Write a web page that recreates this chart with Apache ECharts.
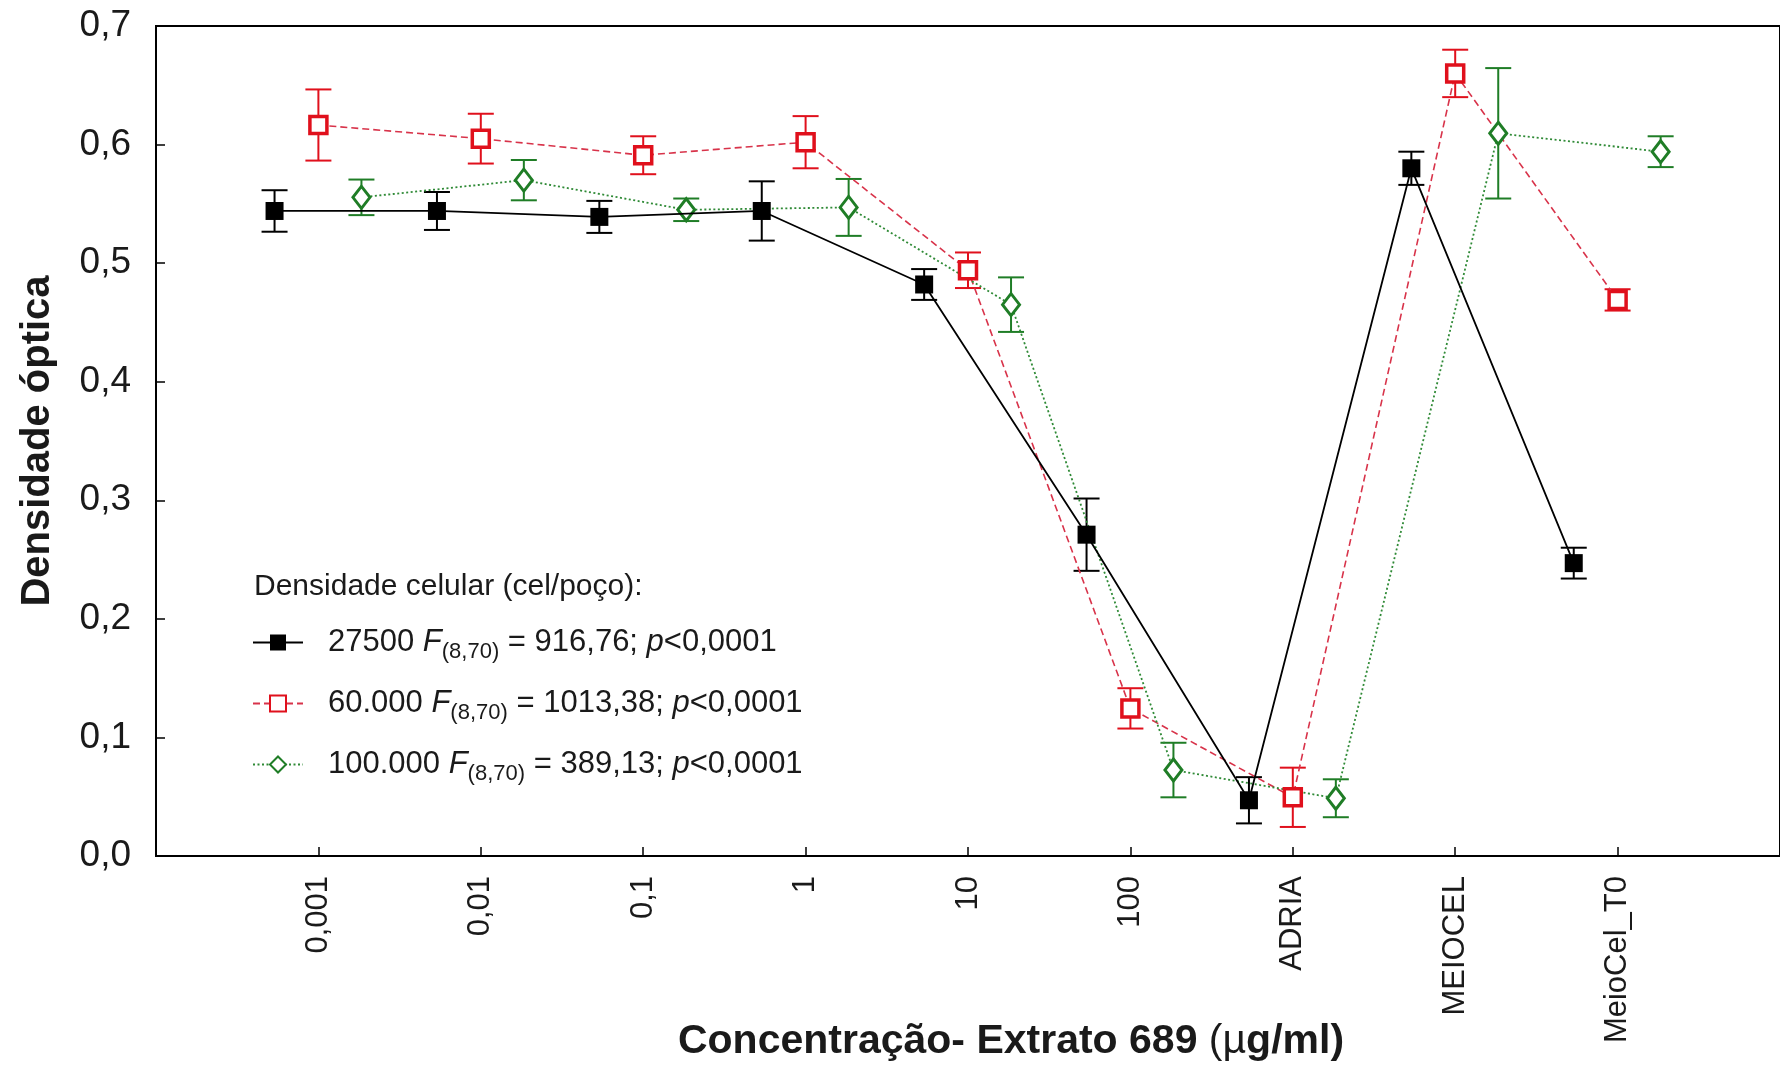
<!DOCTYPE html>
<html>
<head>
<meta charset="utf-8">
<script src="https://cdn.jsdelivr.net/npm/echarts@6/dist/echarts.min.js"></script>
<style>
  html, body { margin: 0; padding: 0; background: #fff; }
  #chart { width: 1780px; height: 1068px; }
</style>
</head>
<body>
<div id="chart"></div>
<script>
// Categories on the x axis (extract concentration in µg/ml and controls)
const categories = ['0,001', '0,01', '0,1', '1', '10', '100', 'ADRIA', 'MEIOCEL', 'MeioCel_T0'];
const yTickLabels = ['0,0', '0,1', '0,2', '0,3', '0,4', '0,5', '0,6', '0,7'];

// Cell density groups (cells per well) and their ANOVA results
const seriesNames = ['27500', '60.000', '100.000'];
const fStats = ['916,76', '1013,38', '389,13'];

// Mean optical density and error half-widths per group
const mean27500  = [0.544, 0.544, 0.539, 0.544, 0.482, 0.271, 0.047, 0.580, 0.247];
const err27500   = [0.0175, 0.016, 0.0135, 0.025, 0.013, 0.0305, 0.0195, 0.014, 0.013];
const mean60000  = [0.6165, 0.605, 0.591, 0.602, 0.494, 0.1245, 0.0495, 0.660, 0.469];
const err60000   = [0.030, 0.021, 0.016, 0.022, 0.015, 0.017, 0.025, 0.020, 0.009];
const mean100000 = [0.5555, 0.570, 0.545, 0.547, 0.465, 0.0725, 0.0487, 0.6095, 0.594];
const err100000  = [0.015, 0.017, 0.0095, 0.024, 0.023, 0.023, 0.016, 0.055, 0.013];

const FONT = '"Liberation Sans", Arial, sans-serif';
const TEXT = '#1a1a1a';
// horizontal dodge of each group around its category slot
const dodge = [-0.27, 0, 0.265];
const lineColors = ['#000000', '#d8334a', '#2f8a36'];
const markColors = ['#000000', '#e0101c', '#1f7d26'];
const slots = categories.map((_, i) => i + 1);

function points(means, off) {
  return means.map((v, i) => [i + 1 + off, v]);
}
function errorRanges(means, errs, off) {
  return means.map((v, i) => [i + 1 + off, v - errs[i], v + errs[i]]);
}

function errorBarSeries(name, data, color) {
  return {
    type: 'custom',
    name: name,
    data: data,
    encode: { x: 0, y: [1, 2] },
    z: 2,
    silent: true,
    clip: false,
    renderItem: function (params, api) {
      const x = api.value(0);
      const lo = api.coord([x, api.value(1)]);
      const hi = api.coord([x, api.value(2)]);
      const w = 13;
      const style = { stroke: color, lineWidth: 2, fill: null };
      return {
        type: 'group',
        children: [
          { type: 'line', shape: { x1: lo[0], y1: lo[1], x2: hi[0], y2: hi[1] }, style: style },
          { type: 'line', shape: { x1: lo[0] - w, y1: lo[1], x2: lo[0] + w, y2: lo[1] }, style: style },
          { type: 'line', shape: { x1: hi[0] - w, y1: hi[1], x2: hi[0] + w, y2: hi[1] }, style: style }
        ]
      };
    }
  };
}

const means = [mean27500, mean60000, mean100000];
const errs = [err27500, err60000, err100000];

const lineSeries = [
  {
    type: 'line', name: seriesNames[0], data: points(means[0], dodge[0]),
    symbol: 'rect', symbolSize: 18, z: 6,
    itemStyle: { color: markColors[0] },
    lineStyle: { color: lineColors[0], width: 1.8 }
  },
  {
    type: 'line', name: seriesNames[1], data: points(means[1], dodge[1]),
    symbol: 'rect', symbolSize: 17, z: 5,
    itemStyle: { color: '#ffffff', borderColor: markColors[1], borderWidth: 3.5 },
    lineStyle: { color: lineColors[1], width: 1.6, type: [7, 4] }
  },
  {
    type: 'line', name: seriesNames[2], data: points(means[2], dodge[2]),
    symbol: 'diamond', symbolSize: [17, 22], z: 5,
    itemStyle: { color: '#ffffff', borderColor: markColors[2], borderWidth: 3 },
    lineStyle: { color: lineColors[2], width: 1.8, type: [2, 2.5] }
  }
].map(s => Object.assign(s, { emphasis: { disabled: true }, showAllSymbol: true }));

const barSeries = means.map((m, k) =>
  errorBarSeries('err-' + seriesNames[k], errorRanges(m, errs[k], dodge[k]), markColors[k]));

const legendTops = [627, 688, 749];
const legends = seriesNames.map((n, i) => ({
  data: [n],
  left: 252,
  top: legendTops[i],
  padding: 0,
  itemWidth: 50,
  itemHeight: 20,
  selectedMode: false,
  formatter: name => name + ' {f|F}{s|(8,70)} = ' + fStats[i] + '; {f|p}<0,0001',
  textStyle: {
    fontSize: 31, fontFamily: FONT, color: TEXT, padding: [0, 0, 0, 20],
    rich: {
      f: { fontStyle: 'italic', fontSize: 31, fontFamily: FONT, color: TEXT },
      s: { fontSize: 22, fontFamily: FONT, color: TEXT, padding: [18, 0, 0, 0] }
    }
  }
}));

const chart = echarts.init(document.getElementById('chart'), null, { renderer: 'canvas' });
chart.setOption({
  animation: false,
  backgroundColor: '#ffffff',
  grid: {
    left: 156, right: -4, top: 26, bottom: 212,
    show: true, borderColor: '#000', borderWidth: 2, backgroundColor: 'transparent'
  },
  xAxis: {
    type: 'value', min: 0, max: 10, interval: 1,
    axisLine: { onZero: false, lineStyle: { color: '#000', width: 2 } },
    axisTick: { inside: true, length: 9, customValues: slots, lineStyle: { color: '#000', width: 1.5 } },
    axisLabel: {
      customValues: slots, rotate: 90, margin: 20,
      fontSize: 31, fontFamily: FONT, color: TEXT,
      formatter: v => categories[Math.round(v) - 1] || ''
    },
    splitLine: { show: false }
  },
  yAxis: {
    type: 'value', min: 0, max: 0.7, interval: 0.1,
    axisLine: { show: true, lineStyle: { color: '#000', width: 2 } },
    axisTick: { show: true, inside: true, length: 9, lineStyle: { color: '#000', width: 1.5 } },
    axisLabel: {
      margin: 25, fontSize: 37, fontFamily: FONT, color: TEXT,
      formatter: v => yTickLabels[Math.round(v * 10)]
    },
    splitLine: { show: false }
  },
  legend: legends,
  graphic: [
    {
      type: 'text', x: 38, y: 441, rotation: Math.PI / 2,
      style: {
        text: 'Densidade óptica', fontSize: 40, fontWeight: 'bold', fontFamily: FONT,
        fill: TEXT, align: 'center', verticalAlign: 'middle'
      }
    },
    {
      type: 'text', x: 1011, y: 1042,
      style: {
        text: '{b|Concentração- Extrato 689 }{n|(µ}{b|g/ml)}',
        align: 'center', verticalAlign: 'middle',
        rich: {
          b: { fontSize: 41, fontWeight: 'bold', fontFamily: FONT, fill: TEXT },
          n: { fontSize: 41, fontWeight: 'normal', fontFamily: FONT, fill: TEXT }
        }
      }
    },
    {
      type: 'text', x: 254, y: 587,
      style: {
        text: 'Densidade celular (cel/poço):', fontSize: 30, fontFamily: FONT,
        fill: TEXT, align: 'left', verticalAlign: 'middle'
      }
    }
  ],
  series: barSeries.concat(lineSeries)
});
</script>
</body>
</html>
